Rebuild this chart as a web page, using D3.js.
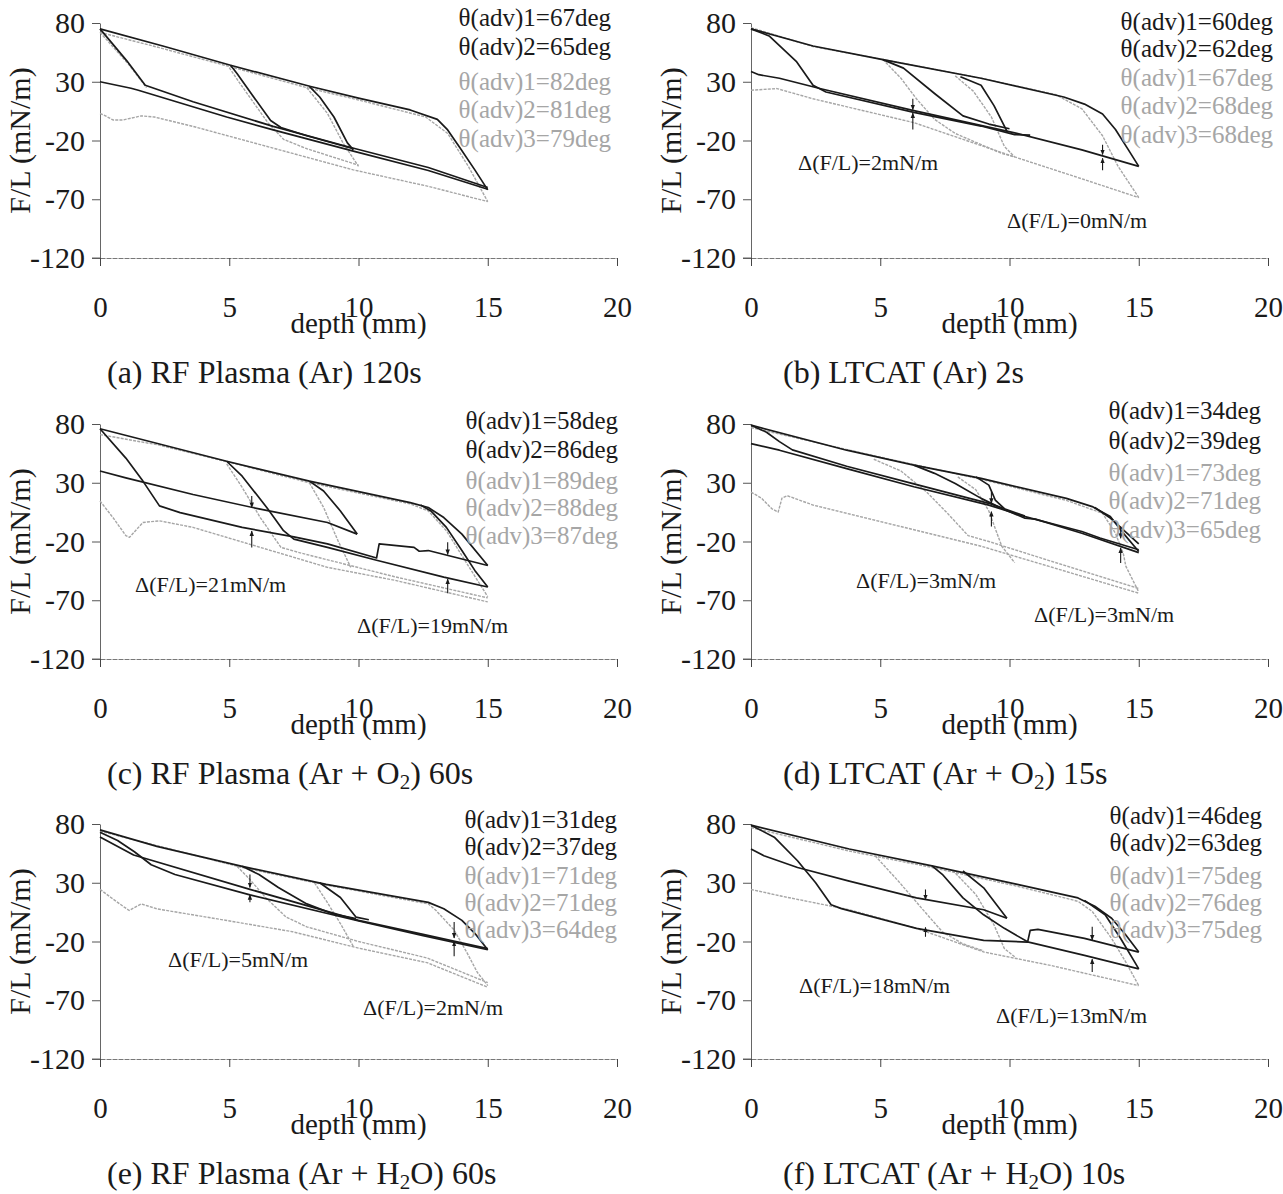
<!DOCTYPE html>
<html>
<head>
<meta charset="utf-8">
<script src="https://cdnjs.cloudflare.com/ajax/libs/d3/7.8.5/d3.min.js"></script>
<style>
  body { margin: 0; background: #fff; }
  svg { display: block; }
</style>
</head>
<body>
<svg id="fig" width="1283" height="1194"></svg>
<script>
// ---- axis ticks ----
const xTicks = [0, 5, 10, 15, 20];
const yTicks = [80, 30, -20, -70, -120];

// ---- panel captions (segments alternate: normal, subscript, normal) ----
const titles = [
  ["(a) RF Plasma (Ar) 120s"],
  ["(b) LTCAT (Ar) 2s"],
  ["(c) RF Plasma (Ar + O", "2", ") 60s"],
  ["(d) LTCAT (Ar + O", "2", ") 15s"],
  ["(e) RF Plasma (Ar + H", "2", "O) 60s"],
  ["(f) LTCAT (Ar + H", "2", "O) 10s"]
];

// ---- advancing contact angles (deg): treated (dark) and untreated (light) ----
const darkAngles  = [[67, 65], [60, 62], [58, 86], [34, 39], [31, 37], [46, 63]];
const lightAngles = [[82, 81, 79], [67, 68, 68], [89, 88, 87], [73, 71, 65], [71, 71, 64], [75, 76, 75]];

// ---- force differences, mN/m ----
const deltaValues = [[], [2, 0], [21, 19], [3, 3], [5, 2], [18, 13]];

// ---- (a) RF Plasma (Ar) 120s: [depth mm, F/L mN/m] ----
const aDark = [
  [[0,75],[2.5,60],[5.05,44],[8.15,26],[10,16],[12,6],[13.05,-2],[13.45,-11],[13.95,-27],[14.5,-45],[15,-62]],
  [[0,30],[1.2,24.5],[1.45,23],[4.9,0],[6.7,-11],[9.8,-29],[12.7,-45.5],[15,-61.5]],
  [[0,75],[1.03,48],[1.75,27],[3.6,13],[6.7,-8],[9.7,-26],[12.7,-43],[15,-60]],
  [[5.05,44],[5.3,37],[5.8,21.5],[6.6,-3],[7.0,-9],[8,-16],[9.8,-27]],
  [[8.1,26],[8.5,17],[9.05,0],[9.57,-22],[9.8,-28]]
];
const aLight = [
  [[0,72],[2.3,59],[5,43],[8,25],[10,14.5],[12.6,0],[13.45,-14],[14.25,-42],[15,-72]],
  [[0,3],[0.15,1.7],[0.5,-2.5],[0.9,-2.5],[1.6,1],[2.1,0],[3.6,-8],[6.7,-26.5],[9.8,-45],[12.7,-59],[15,-72]],
  [[5.0,42],[5.4,29],[6.5,-5],[7.1,-19],[8,-27],[10,-41]],
  [[8.0,25],[8.8,3],[9.4,-22],[10,-42]],
  [[0,72],[1.1,45],[1.8,25]]
];
const aArrows = [];

// ---- (b) LTCAT (Ar) 2s ----
const bDark = [
  [[0,75],[2.4,60.4],[5.1,48.8],[8.9,33],[12.1,17],[12.9,11],[13.6,2.5],[14.1,-10.6],[14.6,-28],[15,-42]],
  [[0,38.7],[0.3,36],[1.1,33],[2.7,24],[6.3,5.4],[10.2,-13.5],[12.8,-28],[15,-42]],
  [[0,75],[0.7,69],[1.75,47.4],[2.4,27],[2.9,21.3],[6.3,4],[8.9,-7.7],[10.2,-15],[10.8,-15.5]],
  [[5.1,48.8],[5.9,41.6],[7.1,20],[8.2,1],[9.2,-6],[10,-10]],
  [[8.1,34.3],[8.9,27],[9.4,9.7],[9.9,-12]]
];
const bLight = [
  [[0,76],[2.4,60],[5.1,49],[8.9,33],[11.8,19],[12.8,7],[13.6,-16],[14.2,-42],[15,-68.6]],
  [[0,22.8],[1,24.2],[2.4,15.5],[6.3,-4.8],[10.2,-34],[12.8,-52.6],[15,-68.6]],
  [[5.1,49],[5.8,33],[6.4,15.5],[7.1,-2],[7.9,-14],[9.7,-31],[10.2,-34]],
  [[7.9,35],[8.6,22],[9.3,0],[9.8,-25],[10.2,-34]]
];
const bArrows = [[6.26,15.5,6.2],[6.26,-10.6,3.3],[13.6,-23.6,-32],[13.6,-45.4,-35.2]];

// ---- (c) RF Plasma (Ar + O2) 60s ----
const cDark = [
  [[0,76],[4.9,48.3],[8.1,31.4],[12,13.1],[12.7,8.9],[13.3,0.4],[14,-13.7],[15,-40.4]],
  [[12.4,11],[12.8,6],[13.4,-8],[14,-27.7],[14.5,-44.6],[15,-58.7]],
  [[0,40],[1,34.2],[3.6,20],[6.2,7.5],[8.8,-3.8],[9.95,-13.7]],
  [[0,76],[1,51],[1.66,31.4],[2.3,10.3],[3.1,4.6],[5.5,-8],[7.5,-16],[8.8,-22],[10.7,-34],[10.8,-22],[12.15,-25],[12.35,-28.3],[12.7,-27.7],[15,-40.4]],
  [[4.9,48.3],[5.5,35.6],[6.45,9],[7.1,-10.8],[7.5,-18],[8.8,-25],[10.7,-36],[13.3,-50.3],[15,-58.7]],
  [[8.1,31.4],[8.65,23],[9.3,6],[9.95,-13.7]]
];
const cLight = [
  [[0,71],[2.3,62],[4.9,48],[8.1,30],[12,12],[12.7,6],[13.4,-10.8],[14.2,-39],[15,-67]],
  [[0,14.5],[0.5,0.4],[1,-15],[1.14,-16.5],[1.66,-3.8],[2.3,-2.4],[3.6,-8],[6.2,-25],[8.8,-42],[11.4,-53],[15,-71.4]],
  [[4.9,46],[5.5,26],[6.2,0.4],[7,-25],[7.8,-30],[11.4,-50],[15,-68]],
  [[8.1,30],[8.65,9],[9.2,-19],[9.7,-42]]
];
const cArrows = [[5.87,18.7,9],[5.87,-25,-11],[13.45,-20.7,-31],[13.45,-64,-52]];

// ---- (d) LTCAT (Ar + O2) 15s ----
const dDark = [
  [[0,79],[3.7,57.7],[6.3,45],[8.9,33.7],[12.2,16.7],[13.2,9.7],[13.9,1.2],[14.4,-12.9],[15,-28.5]],
  [[13.3,9],[13.9,0],[14.5,-12],[15,-22]],
  [[0,63.3],[1.1,57.7],[3.7,42],[6.3,26.6],[9.2,11],[10.6,1.2],[12.8,-11.5],[13.5,-17],[15,-27]],
  [[0,79],[0.6,73],[1.1,65],[1.6,58],[3.7,44],[6.3,29],[9.2,12.5],[10.6,1.6]],
  [[6.3,45],[7.1,38],[7.9,29.4],[8.9,16.7],[9.7,8.2],[10.6,-0.2],[11,-1],[12.8,-13],[15,-29.5]],
  [[8.7,35],[9.2,28],[9.45,15.3],[9.8,8]]
];
const dLight = [
  [[0,77],[4.75,53],[8.9,33],[12.2,15],[13.6,4],[14.1,-13],[14.4,-30],[14.5,-41],[15,-63]],
  [[0,22],[0.4,17],[0.8,8],[1.05,5],[1.2,17],[1.4,19],[2.4,11],[5,-3],[8.9,-24],[11.5,-41],[15,-64]],
  [[4.75,50],[5.8,40],[6.8,22],[7.6,4],[8.4,-15],[9.2,-20],[11.5,-36],[15,-60]],
  [[8,35],[8.7,24],[9.2,6],[9.7,-24],[10.2,-38]]
];
const dArrows = [[9.3,22.4,12.5],[9.3,-7.3,5.4],[14.3,-7.3,-17.2],[14.3,-38.4,-25.6]];

// ---- (e) RF Plasma (Ar + H2O) 60s ----
const eDark = [
  [[0,75],[2.2,61],[5.5,44],[8.75,28.6],[12.7,13.3],[13.3,7.8],[14,-2],[14.5,-13],[15,-27]],
  [[0,69],[1.3,53.6],[5.8,24.4],[10,-2],[12.5,-14],[15,-26]],
  [[0,73],[0.68,66],[1.33,56.4],[1.98,45.3],[2.9,37],[5.8,19.7],[10.05,-2.8],[12.5,-15],[15,-27]],
  [[5.5,44],[6.15,37],[6.9,26],[8,12],[9,3.6],[9.9,-0.6]],
  [[8.5,30],[9.3,17.5],[9.9,0.8],[10.4,-1.5]]
];
const eLight = [
  [[0,74],[5.5,43],[8.75,28],[12.7,12],[13,6.4],[13.7,-10.3],[14.2,-29.7],[14.6,-46.4],[15,-57.5]],
  [[0,24.4],[0.42,17.5],[0.94,9.2],[1.13,6.4],[1.6,12],[2.2,7.8],[4.85,-1.9],[7.45,-11.7],[10,-25.6],[12.65,-38],[15,-58.9]],
  [[5.3,44],[5.75,34],[6.4,17.5],[7.2,0.8],[8,-7.5],[10,-20],[12.65,-34],[15,-55]],
  [[8.3,30],[8.75,14.7],[9.3,-4.7],[9.8,-24.2]]
];
const eArrows = [[5.8,37,26],[5.8,13.3,19.7],[13.7,-3.3,-17],[13.7,-32.5,-20]];

// ---- (f) LTCAT (Ar + H2O) 10s ----
const fDark = [
  [[0,79],[3.8,58.7],[7,44.4],[10.3,28.6],[12.65,17.1],[13.3,10],[13.95,-0.2],[14.5,-14.5],[15,-29]],
  [[12.9,15],[13.7,2.7],[14.3,-17.4],[15,-43.3]],
  [[0,58.7],[0.5,53],[1.8,43],[3.8,31.4],[6.4,17.1],[9,7],[9.9,-0.2]],
  [[0,79],[0.9,68.8],[1.8,48.7],[2.5,30],[3.1,11.3],[3.5,8],[6.4,-8.8],[9,-19],[10.7,-20.5],[10.8,-10.5],[11.1,-9.7],[12.9,-17.4],[15,-29]],
  [[7,44.4],[7.4,37.2],[8.2,17.1],[9,2.7],[9.8,-8.8],[10.7,-20.3],[12.9,-31.8],[15,-43.3]],
  [[8.2,40],[9,25.7],[9.5,11.3],[9.9,-0.2]]
];
const fLight = [
  [[0,77],[3.8,57],[7,43],[10.3,27],[11.6,20],[12.65,14.2],[13.2,5.6],[13.95,-17.4],[14.5,-37.5],[15,-57.6]],
  [[0,24.3],[1.2,18.5],[3.8,7],[6.4,-8.8],[9,-28.9],[11.6,-40.4],[15,-57.6]],
  [[4.8,53],[5.7,31.4],[6.6,8.4],[7.4,-11.7],[8.2,-22],[9,-28]],
  [[7.8,40.6],[8.7,20],[9.4,-5.9],[9.8,-26],[10.2,-33]]
];
const fArrows = [[6.75,24.3,15.6],[6.75,-16,-8],[13.2,-7.4,-18.7],[13.2,-46,-35]];

// ---- page layout (pixels) ----
const W = 517, H = 235;
const frames = [
  { x0: 100, top: 23, capX: 107 }, { x0: 751, top: 23, capX: 783 },
  { x0: 100, top: 424, capX: 107 }, { x0: 751, top: 424, capX: 783 },
  { x0: 100, top: 824, capX: 107 }, { x0: 751, top: 824, capX: 783 }
];
const legendRight = [511, 522, 518, 510, 517, 511];
const legendY = [
  [-3, 26, 61, 89, 118], [1, 28, 57, 85, 114], [-1, 28, 59, 86, 114],
  [-11, 19, 51, 79, 108], [-2, 25, 54, 81, 108], [-6, 21, 54, 81, 108]
];
const deltaPos = [
  [], [[47, 142], [256, 200]], [[35, 163], [257, 204]],
  [[105, 159], [283, 193]], [[68, 138], [263, 186]], [[48, 164], [245, 194]]
];

const panels = [
  { dark: aDark, light: aLight, arrows: aArrows },
  { dark: bDark, light: bLight, arrows: bArrows },
  { dark: cDark, light: cLight, arrows: cArrows },
  { dark: dDark, light: dLight, arrows: dArrows },
  { dark: eDark, light: eLight, arrows: eArrows },
  { dark: fDark, light: fLight, arrows: fArrows }
];

const SERIF = '"Liberation Serif", "Times New Roman", Times, serif';
const INK = "#1a1a1a";
const GREY = "#a6a6a6";

const svg = d3.select("#fig");
svg.append("rect").attr("width", 1283).attr("height", 1194).attr("fill", "#fff");

const defs = svg.append("defs");
defs.append("marker")
  .attr("id", "head").attr("viewBox", "0 0 10 10")
  .attr("refX", 9).attr("refY", 5)
  .attr("markerWidth", 5).attr("markerHeight", 5)
  .attr("orient", "auto")
  .append("path").attr("d", "M0,1 L10,5 L0,9 Z").attr("fill", INK);

panels.forEach((p, i) => {
  const f = frames[i];
  const x = d3.scaleLinear().domain([0, 20]).range([f.x0, f.x0 + W]);
  const y = d3.scaleLinear().domain([-120, 80]).range([f.top + H, f.top]);
  const g = svg.append("g");

  // y axis
  const ya = g.append("g").attr("transform", `translate(${f.x0},0)`)
    .call(d3.axisLeft(y).tickValues(yTicks).tickFormat(d => String(d))
      .tickSize(8).tickPadding(7).tickSizeOuter(0));
  ya.select(".domain").attr("stroke", "#666");
  ya.selectAll(".tick line").attr("stroke", "#555");
  ya.selectAll(".tick text").attr("font-family", SERIF).attr("font-size", 30).attr("fill", INK);

  // x axis (along F/L = -120)
  const xa = g.append("g").attr("transform", `translate(0,${f.top + H})`)
    .call(d3.axisBottom(x).tickValues(xTicks).tickSize(8).tickPadding(30).tickSizeOuter(0));
  xa.select(".domain").attr("stroke", "#777").attr("stroke-dasharray", "5 1");
  xa.selectAll(".tick line").attr("stroke", "#444");
  xa.selectAll(".tick text").attr("font-family", SERIF).attr("font-size", 29).attr("fill", INK);
  // the -120 line extends a little left of the y axis
  g.append("line").attr("x1", f.x0 - 8).attr("x2", f.x0)
    .attr("y1", y(-120)).attr("y2", y(-120)).attr("stroke", "#666");

  // axis titles
  g.append("text")
    .attr("transform", `translate(${f.x0 - 77},${(y(80) + y(-120)) / 2}) rotate(-90)`)
    .attr("text-anchor", "middle").attr("dominant-baseline", "middle")
    .attr("font-family", SERIF).attr("font-size", 30).attr("fill", INK)
    .text("F/L (mN/m)");
  g.append("text")
    .attr("x", x(10)).attr("y", f.top + H + 75)
    .attr("text-anchor", "middle")
    .attr("font-family", SERIF).attr("font-size", 29).attr("fill", INK)
    .text("depth (mm)");

  // caption
  const cap = g.append("text")
    .attr("x", f.capX).attr("y", f.top + H + 125)
    .attr("font-family", SERIF).attr("font-size", 32).attr("fill", INK);
  titles[i].forEach((seg, k) => {
    const t = cap.append("tspan").text(seg);
    if (k === 1) t.attr("font-size", 21).attr("dy", 5);
    if (k === 2) t.attr("dy", -5);
  });

  const line = d3.line().x(d => x(d[0])).y(d => y(d[1]));

  // untreated (light) curves first, treated (dark) on top
  g.append("g").selectAll("path").data(p.light).join("path")
    .attr("d", line).attr("fill", "none")
    .attr("stroke", GREY).attr("stroke-width", 1.4)
    .attr("stroke-dasharray", "3 1.2").attr("stroke-linejoin", "round");
  g.append("g").selectAll("path").data(p.dark).join("path")
    .attr("d", line).attr("fill", "none")
    .attr("stroke", INK).attr("stroke-width", 1.7).attr("stroke-linejoin", "round");

  // force-difference arrows
  g.append("g").selectAll("line").data(p.arrows).join("line")
    .attr("x1", d => x(d[0])).attr("x2", d => x(d[0]))
    .attr("y1", d => y(d[1])).attr("y2", d => y(d[2]))
    .attr("stroke", INK).attr("stroke-width", 1.1)
    .attr("marker-end", "url(#head)");

  // angle legend
  const rows = darkAngles[i].map((v, k) => ({ t: `θ(adv)${k + 1}=${v}deg`, c: INK }))
    .concat(lightAngles[i].map((v, k) => ({ t: `θ(adv)${k + 1}=${v}deg`, c: GREY })));
  g.append("g").selectAll("text").data(rows).join("text")
    .attr("x", f.x0 + legendRight[i])
    .attr("y", (d, k) => f.top + legendY[i][k])
    .attr("text-anchor", "end").attr("dominant-baseline", "middle")
    .attr("font-family", SERIF).attr("font-size", 25)
    .attr("fill", d => d.c)
    .text(d => d.t);

  // force-difference labels
  g.append("g").selectAll("text").data(deltaValues[i]).join("text")
    .attr("x", (d, k) => f.x0 + deltaPos[i][k][0])
    .attr("y", (d, k) => f.top + deltaPos[i][k][1])
    .attr("dominant-baseline", "middle")
    .attr("font-family", SERIF).attr("font-size", 22).attr("fill", INK)
    .text(d => `Δ(F/L)=${d}mN/m`);
});
</script>
</body>
</html>
